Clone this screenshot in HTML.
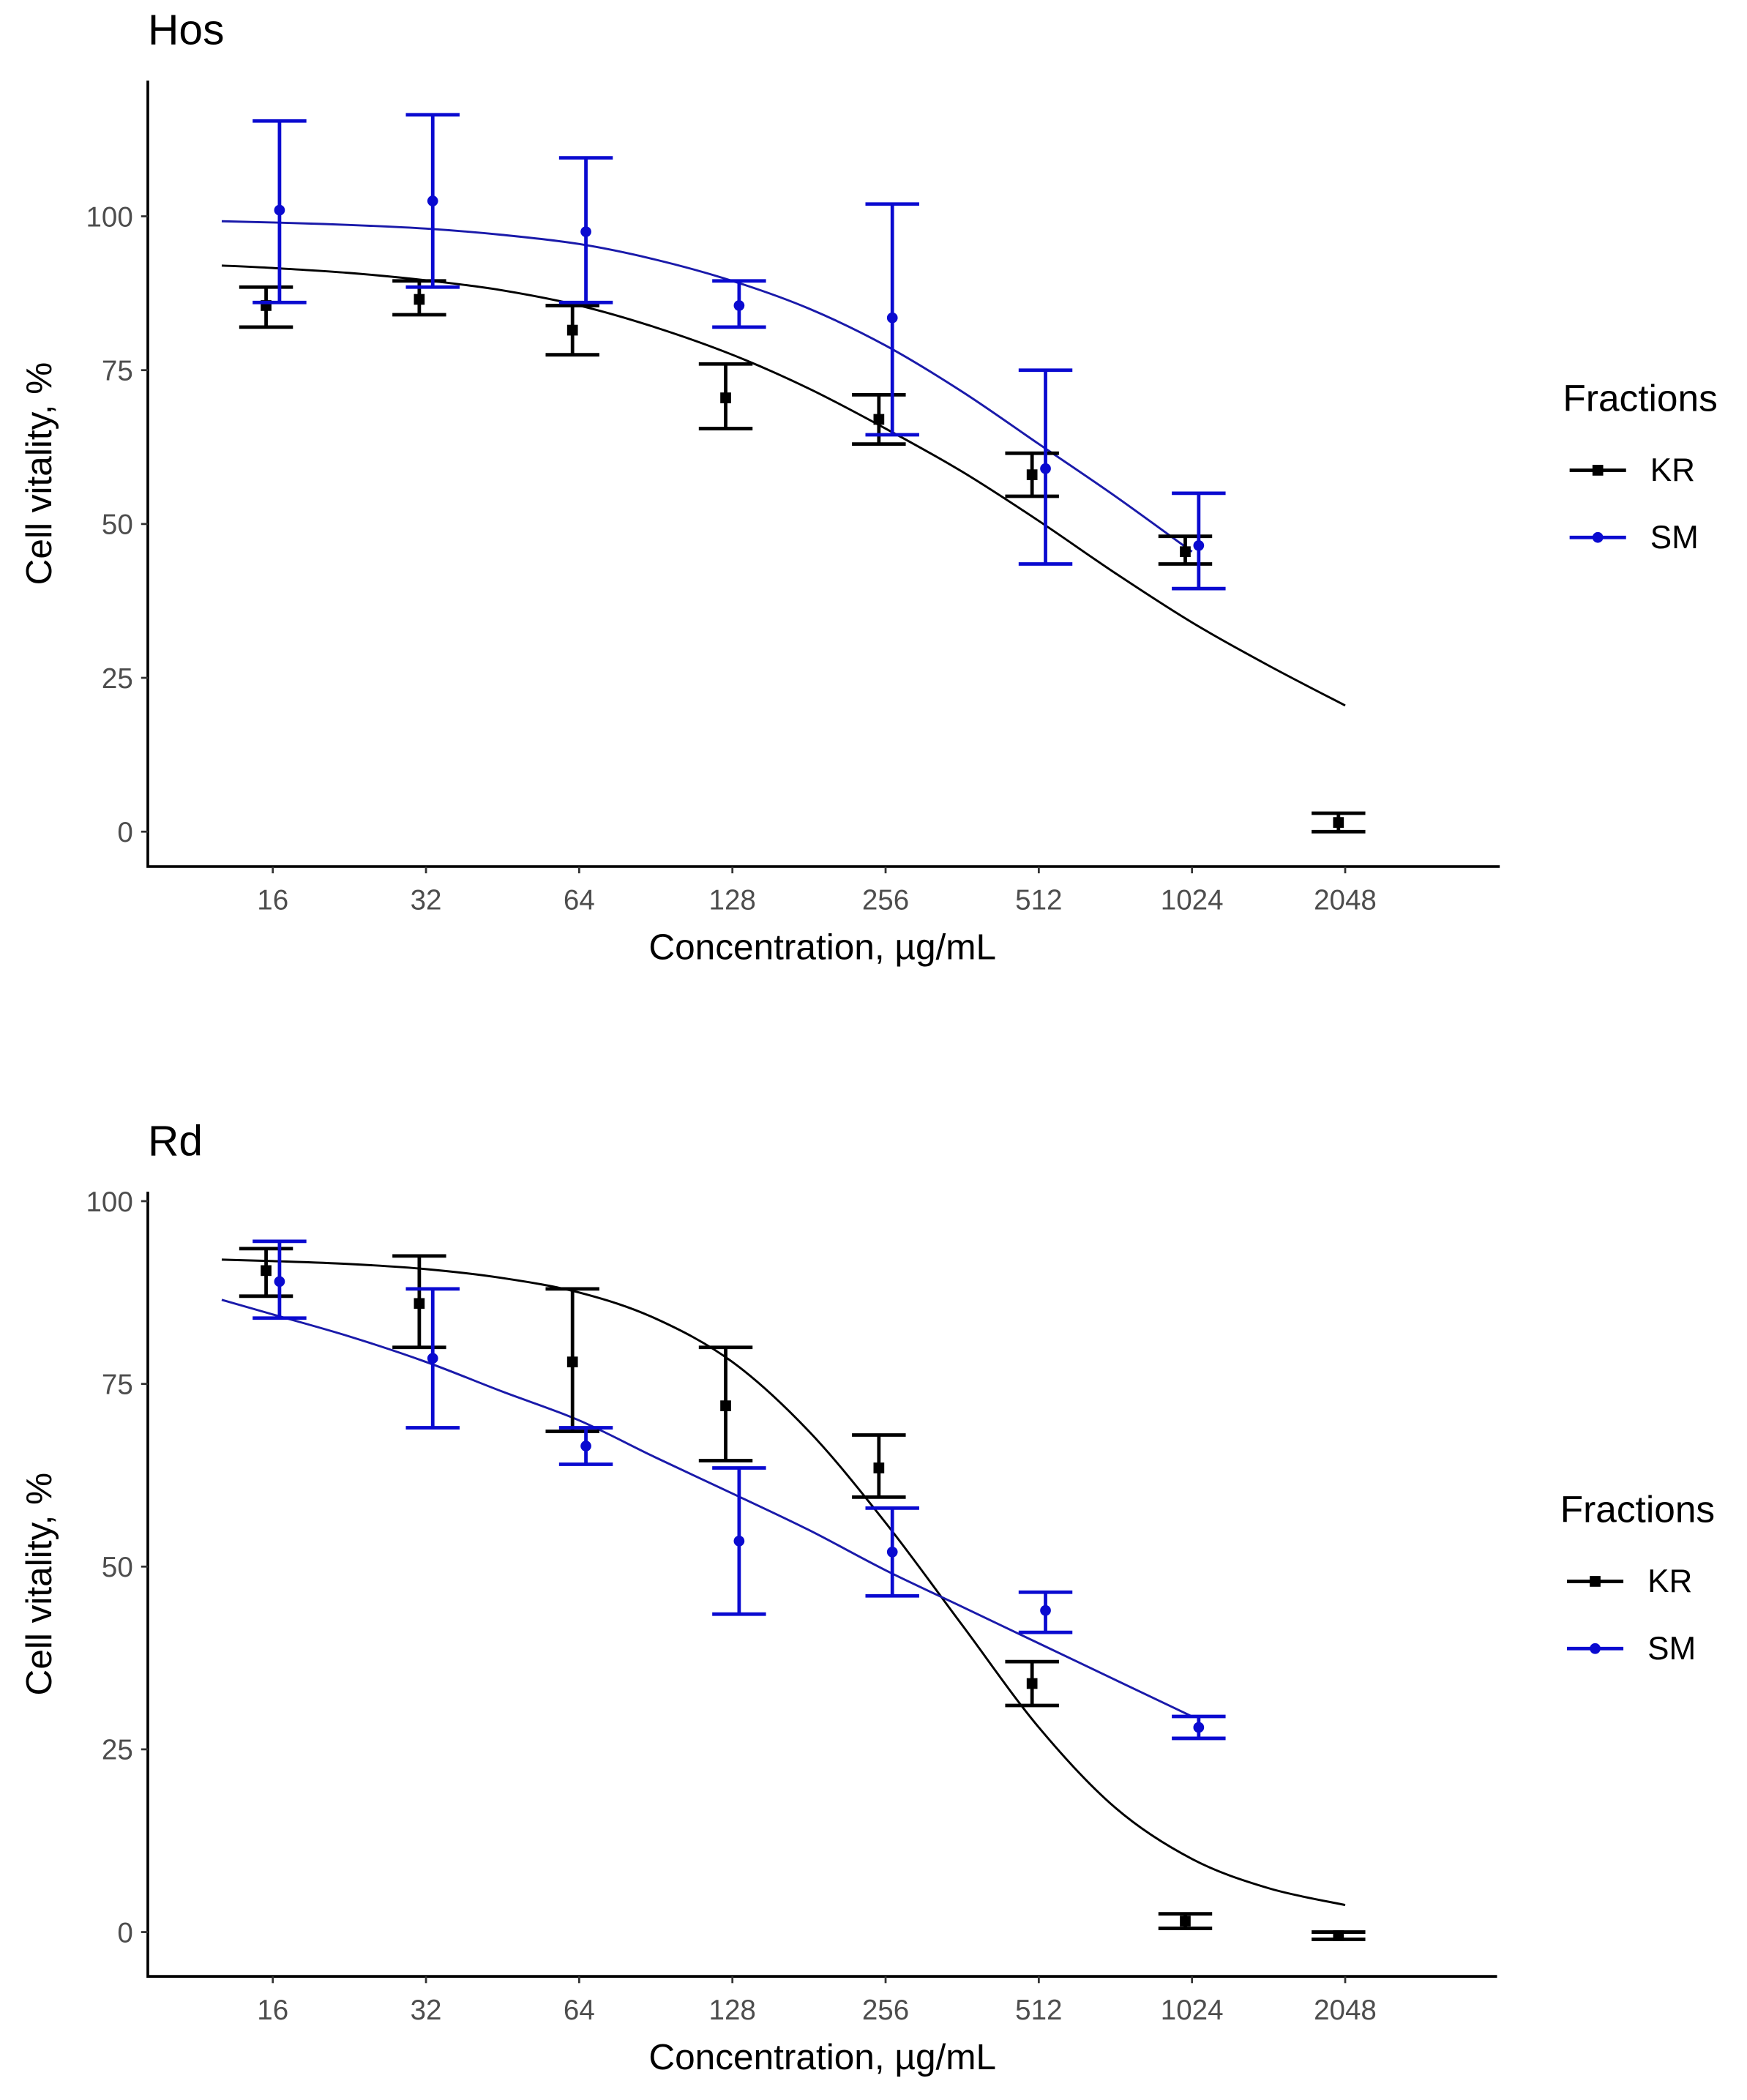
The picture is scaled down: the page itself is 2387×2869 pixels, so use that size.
<!DOCTYPE html>
<html><head><meta charset="utf-8"><style>
html,body{margin:0;padding:0;background:#fff;}
svg{display:block;}
text{font-family:"Liberation Sans",Arial,sans-serif;}
</style></head><body>
<svg id="fig" width="2387" height="2869" viewBox="0 0 1300 1563" preserveAspectRatio="none" xmlns="http://www.w3.org/2000/svg"></svg>
<script>
const concs = [16,32,64,128,256,512,1024,2048];
const xTickLabels = ["16","32","64","128","256","512","1024","2048"];
const yTicks = [0,25,50,75,100];

// Hos panel data
const hosKR = [85.5,86.5,81.5,70.5,67,58,45.5,1.5];
const hosKRlo = [82,84,77.5,65.5,63,54.5,43.5,0];
const hosKRhi = [88.5,89.5,85.5,76,71,61.5,48,3];
const hosSM = [101,102.5,97.5,85.5,83.5,59,46.5];
const hosSMlo = [86,88.5,86,82,64.5,43.5,39.5];
const hosSMhi = [115.5,116.5,109.5,89.5,102,75,55];
const curveConcs = [12.7,16,22.6,32,45,64,90,128,181,256,362,512,724,1024,1448,2048];
const hosKRcurve = [92,91.6,90.8,89.6,88,85.5,82,77.5,72,65.5,58.5,50.5,42,34,27,20.5];
const hosSMcurve = [99.2,99,98.6,98,97,95.5,93,89.5,85,79,71.5,63,54.5,45.5];

// Rd panel data
const rdKR = [90.5,86,78,72,63.5,34,1.5,-0.5];
const rdKRlo = [87,80,68.5,64.5,59.5,31,0.5,-1];
const rdKRhi = [93.5,92.5,88,80,68,37,2.5,0];
const rdSM = [89,78.5,66.5,53.5,52,44,28];
const rdSMlo = [84,69,64,43.5,46,41,26.5];
const rdSMhi = [94.5,88,69,63.5,58,46.5,29.5];
const rdKRcurve = [92,91.8,91.4,90.7,89.5,87.5,84,78,68.5,56,42,28,17,10,6,3.7];
const rdSMcurve = [86.5,84.5,81.5,78,74,70,65,60,55,49.5,44.5,39.5,34.5,29.5];

const NS="http://www.w3.org/2000/svg";
const svg=document.getElementById('fig');
function mk(tag,attrs,parent){const e=document.createElementNS(NS,tag);for(const k in attrs)e.setAttribute(k,attrs[k]);(parent||svg).appendChild(e);return e;}
function smooth(pts){let d="M"+pts[0][0]+","+pts[0][1];for(let i=0;i<pts.length-1;i++){const p0=pts[Math.max(0,i-1)],p1=pts[i],p2=pts[i+1],p3=pts[Math.min(pts.length-1,i+2)];const c1=[p1[0]+(p2[0]-p0[0])/6,p1[1]+(p2[1]-p0[1])/6],c2=[p2[0]-(p3[0]-p1[0])/6,p2[1]-(p3[1]-p1[1])/6];d+=" C"+c1+" "+c2+" "+p2;}return d;}

function panel(cfg){
  const g=mk('g',{});
  
  
  const xs=c=>cfg.x16+Math.log2(c/16)*cfg.xstep;
  const ys=v=>cfg.y0+(cfg.y100-cfg.y0)*v/100;
  const t=mk('text',{x:110,y:cfg.titleY,'font-size':32,fill:'#000'},g);t.textContent=cfg.title;
  
  const ax=mk('path',{d:`M110,${cfg.axTop} V${cfg.axBot} H${cfg.axRight}`,stroke:'#000','stroke-width':2,fill:'none'},g);
  
  yTicks.forEach(v=>{
    mk('line',{x1:105,x2:110,y1:ys(v),y2:ys(v),stroke:'#333','stroke-width':1.5},g);
    const l=mk('text',{x:99,y:ys(v)+7.5,'font-size':21,fill:'#4d4d4d','text-anchor':'end'},g);l.textContent=v;
    
  });
  concs.forEach((c,i)=>{
    mk('line',{x1:xs(c),x2:xs(c),y1:cfg.axBot,y2:cfg.axBot+5,stroke:'#333','stroke-width':1.5},g);
    const l=mk('text',{x:xs(c),y:cfg.axBot+32,'font-size':21,fill:'#4d4d4d','text-anchor':'middle'},g);l.textContent=xTickLabels[i];
    
  });
  const xt=mk('text',{x:612,y:cfg.axBot+69,'font-size':27,fill:'#000','text-anchor':'middle'},g);xt.textContent='Concentration, µg/mL';
  
  const ymid=(cfg.axTop+cfg.axBot)/2;
  const yt=mk('text',{x:38,y:ymid,'font-size':27,fill:'#000','text-anchor':'middle',transform:`rotate(-90 38 ${ymid})`},g);yt.textContent='Cell vitality, %';
  
  const kc=mk('path',{d:smooth(cfg.krCurve.map((v,i)=>[xs(curveConcs[i]),ys(v)])),stroke:'#000','stroke-width':1.6,fill:'none'},g);
  
  const sc=mk('path',{d:smooth(cfg.smCurve.map((v,i)=>[xs(curveConcs[i]),ys(v)])),stroke:'#1a1aaa','stroke-width':1.6,fill:'none'},g);
  
  function series(vals,lo,hi,col,off,shape,nm){
    vals.forEach((v,i)=>{
      const x=xs(concs[i])+off;
      const e=mk('path',{d:`M${x-20},${ys(hi[i])} H${x+20} M${x},${ys(hi[i])} V${ys(lo[i])} M${x-20},${ys(lo[i])} H${x+20}`,stroke:col,'stroke-width':2.6,fill:'none'},g);
      
      let p;
      if(shape==='sq')p=mk('rect',{x:x-4,y:ys(v)-4,width:8,height:8,fill:col},g);
      else p=mk('circle',{cx:x,cy:ys(v),r:4,fill:col},g);
      
    });
  }
  series(cfg.kr,cfg.krlo,cfg.krhi,'#000',-5,'sq','kr');
  series(cfg.sm,cfg.smlo,cfg.smhi,'#0a0ad0',5,'ci','sm');
  const lg=mk('g',{},g);
  const lt=mk('text',{x:cfg.legX-5,y:cfg.legY,'font-size':28,fill:'#000'},lg);lt.textContent='Fractions';
  [['KR','#000','sq',54],['SM','#0a0ad0','ci',104]].forEach(([n,c,s,dy])=>{
    const yy=cfg.legY+dy-10;
    mk('line',{x1:cfg.legX,x2:cfg.legX+42,y1:yy,y2:yy,stroke:c,'stroke-width':2.6},lg);
    if(s==='sq')mk('rect',{x:cfg.legX+17,y:yy-4,width:8,height:8,fill:c},lg);else mk('circle',{cx:cfg.legX+21,cy:yy,r:4,fill:c},lg);
    const tx=mk('text',{x:cfg.legX+60,y:yy+8,'font-size':24,fill:'#000'},lg);tx.textContent=n;
    
  });
}
panel({name:'hos',title:'Hos',titleY:33,x16:203,xstep:114,y0:619,y100:161,axTop:60,axBot:645,axRight:1116,
  kr:hosKR,krlo:hosKRlo,krhi:hosKRhi,sm:hosSM,smlo:hosSMlo,smhi:hosSMhi,krCurve:hosKRcurve,smCurve:hosSMcurve,legX:1168,legY:306});
panel({name:'rd',title:'Rd',titleY:860,x16:203,xstep:114,y0:1438,y100:894,axTop:887,axBot:1471,axRight:1114,
  kr:rdKR,krlo:rdKRlo,krhi:rdKRhi,sm:rdSM,smlo:rdSMlo,smhi:rdSMhi,krCurve:rdKRcurve,smCurve:rdSMcurve,legX:1166,legY:1133});
</script>
</body></html>
